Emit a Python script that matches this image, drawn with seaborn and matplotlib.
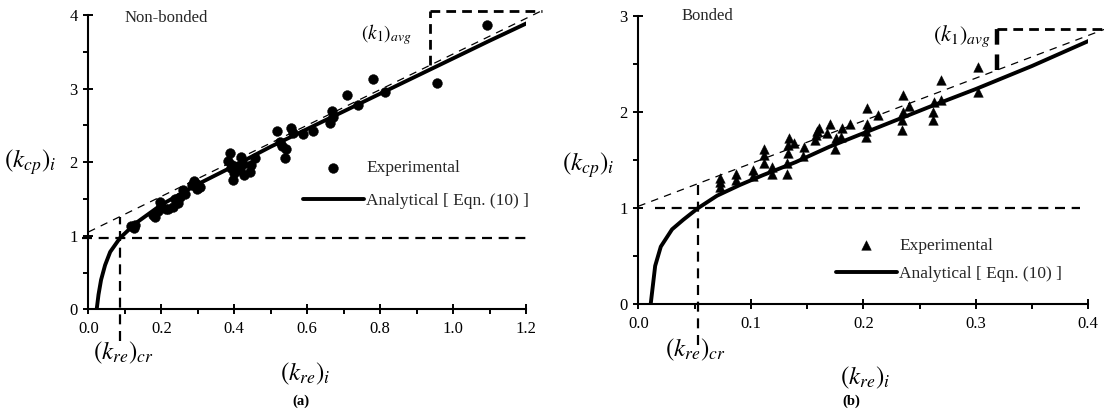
import numpy as np
import pandas as pd
import matplotlib
matplotlib.use("Agg")
import matplotlib.pyplot as plt
from matplotlib.ticker import MultipleLocator, FormatStrFormatter
import seaborn as sns

# ---- (a) Non-bonded -------------------------------------------------------
nb_kre = [0.118, 0.125, 0.128, 0.178, 0.183, 0.190, 0.196, 0.200, 0.212, 0.219,
          0.233, 0.237, 0.245, 0.251, 0.260, 0.265, 0.283, 0.290, 0.292, 0.297,
          0.301, 0.305, 0.384, 0.388, 0.390, 0.393, 0.397, 0.400, 0.402, 0.410,
          0.415, 0.420, 0.425, 0.428, 0.443, 0.447, 0.457, 0.516, 0.525, 0.530,
          0.539, 0.543, 0.557, 0.560, 0.589, 0.616, 0.662, 0.667, 0.672, 0.708,
          0.740, 0.781, 0.813, 0.955, 1.092]
nb_kcp = [1.13, 1.10, 1.15, 1.28, 1.25, 1.34, 1.46, 1.40, 1.37, 1.36,
          1.39, 1.50, 1.44, 1.53, 1.62, 1.57, 1.69, 1.74, 1.72, 1.64,
          1.69, 1.66, 2.02, 2.12, 1.92, 1.96, 1.76, 1.85, 1.88, 1.95,
          1.90, 2.07, 1.98, 1.82, 1.87, 1.96, 2.05, 2.43, 2.28, 2.22,
          2.05, 2.18, 2.47, 2.40, 2.38, 2.43, 2.53, 2.70, 2.62, 2.91,
          2.78, 3.13, 2.95, 3.08, 3.86]

nb_curve_kre = [0.023, 0.028, 0.035, 0.046, 0.060, 0.087, 0.130, 0.200, 0.300,
                0.400, 0.500, 0.600, 0.700, 0.800, 0.900, 1.000, 1.100, 1.220]
nb_curve_kcp = [0.00, 0.20, 0.40, 0.60, 0.78, 0.97, 1.17, 1.42, 1.70,
                1.95, 2.21, 2.45, 2.69, 2.93, 3.17, 3.41, 3.65, 3.93]

nb_tangent_kre = [0.0, 1.244]
nb_tangent_kcp = [1.05, 4.06]
nb_kre_cr, nb_kcp_cr = 0.087, 0.965
nb_k1_kre = [0.936, 1.244]
nb_k1_kcp = [3.32, 4.06]

# ---- (b) Bonded -----------------------------------------------------------
b_kre = [0.073, 0.073, 0.073, 0.087, 0.087, 0.102, 0.102, 0.112, 0.112, 0.112,
         0.119, 0.119, 0.132, 0.132, 0.133, 0.133, 0.134, 0.138, 0.146, 0.147,
         0.157, 0.158, 0.159, 0.161, 0.168, 0.170, 0.175, 0.176, 0.180, 0.181,
         0.188, 0.202, 0.202, 0.203, 0.203, 0.213, 0.234, 0.234, 0.235, 0.235,
         0.241, 0.262, 0.262, 0.263, 0.269, 0.269, 0.302, 0.302]
b_kcp = [1.22, 1.27, 1.31, 1.29, 1.36, 1.33, 1.40, 1.47, 1.55, 1.62,
         1.36, 1.43, 1.36, 1.47, 1.57, 1.66, 1.73, 1.68, 1.54, 1.64,
         1.71, 1.76, 1.80, 1.83, 1.78, 1.88, 1.62, 1.73, 1.74, 1.83,
         1.88, 1.74, 1.80, 1.88, 2.04, 1.97, 1.81, 1.92, 2.00, 2.18,
         2.06, 1.92, 2.00, 2.11, 2.13, 2.33, 2.21, 2.47]

b_curve_kre = [0.011, 0.013, 0.015, 0.020, 0.030, 0.040, 0.053, 0.070, 0.090,
               0.110, 0.140, 0.170, 0.200, 0.230, 0.260, 0.300, 0.350, 0.404]
b_curve_kcp = [0.00, 0.20, 0.40, 0.60, 0.78, 0.88, 1.00, 1.13, 1.24,
               1.34, 1.48, 1.64, 1.78, 1.92, 2.06, 2.24, 2.48, 2.76]

b_tangent_kre = [0.0, 0.414]
b_tangent_kcp = [1.02, 2.86]
b_kre_cr, b_kcp_cr = 0.0533, 1.0
b_k1_kre = [0.3186, 0.413]
b_k1_kcp = [2.44, 2.86]

W, H = 1104, 418

sns.set_theme(style="white")
plt.rcParams["font.family"] = ["Liberation Serif", "DejaVu Serif"]
plt.rcParams["mathtext.fontset"] = "stix"

fig = plt.figure(figsize=(W / 100, H / 100), dpi=100)


def fx(x):
    return x / W


def fy(y):
    return 1 - y / H


ax_a = fig.add_axes([fx(88.3), fy(309.3), fx(526 - 88.3), (309.3 - 15) / H])
ax_b = fig.add_axes([fx(638.3), fy(304.3), fx(1088.3 - 638.3), (304.3 - 16) / H])

dash_thick = dict(color="black", lw=1.6, ls=(0, (4.5, 3)), clip_on=False)
dash_thin = dict(color="black", lw=0.9, ls=(0, (6, 5)), clip_on=False)
dash_box = dict(color="black", lw=2.0, ls=(0, (3.5, 2.2)), clip_on=False)


def draw_panel(ax, kre, kcp, marker, size, ckre, ckcp, tkre, tkcp, kre_cr, kcp_cr,
               hline_x, vline_bottom, k1_kre, k1_kcp, box_lw):
    pts = pd.DataFrame({"kre": kre, "kcp": kcp})
    crv = pd.DataFrame({"kre": ckre, "kcp": ckcp})
    slope = (tkcp[1] - tkcp[0]) / (tkre[1] - tkre[0])
    # tangent, critical-point guides and the slope triangle
    ax.plot(tkre, tkcp, **dash_thin)
    ax.plot(hline_x, [kcp_cr, kcp_cr], **dash_thick)
    ax.plot([kre_cr, kre_cr], [vline_bottom, tkcp[0] + slope * kre_cr], **dash_thick)
    box = dict(dash_box)
    box["lw"] = box_lw
    ax.plot([k1_kre[0], k1_kre[1]], [k1_kcp[1], k1_kcp[1]], **dash_box)
    ax.plot([k1_kre[0], k1_kre[0]], [k1_kcp[0], k1_kcp[1]], **box)
    sns.scatterplot(data=pts, x="kre", y="kcp", marker=marker, s=size, color="black",
                    edgecolor="black", linewidth=0.3, ax=ax, label="Experimental", zorder=3)
    sns.lineplot(data=crv, x="kre", y="kcp", sort=False, estimator=None, color="black",
                 lw=2.8, ax=ax, label="Analytical [ Eqn. (10) ]", zorder=4)


draw_panel(ax_a, nb_kre, nb_kcp, "o", 50, nb_curve_kre, nb_curve_kcp,
           nb_tangent_kre, nb_tangent_kcp, nb_kre_cr, nb_kcp_cr,
           [-0.016, 1.205], -0.43, nb_k1_kre, nb_k1_kcp, 2.0)
draw_panel(ax_b, b_kre, b_kcp, "^", 48, b_curve_kre, b_curve_kcp,
           b_tangent_kre, b_tangent_kcp, b_kre_cr, b_kcp_cr,
           [0.015, 0.393], -0.42, b_k1_kre, b_k1_kcp, 3.2)

for ax, xmax, ymax, xmaj, xmin in [(ax_a, 1.2, 4, 0.2, 0.1), (ax_b, 0.4, 3, 0.1, 0.05)]:
    ax.set_xlim(0, xmax)
    ax.set_ylim(0, ymax)
    ax.xaxis.set_major_locator(MultipleLocator(xmaj))
    ax.xaxis.set_minor_locator(MultipleLocator(xmin))
    ax.yaxis.set_major_locator(MultipleLocator(1))
    ax.yaxis.set_minor_locator(MultipleLocator(0.5))
    ax.xaxis.set_major_formatter(FormatStrFormatter("%.1f"))
    ax.yaxis.set_major_formatter(FormatStrFormatter("%d"))
    for s in ["top", "right"]:
        ax.spines[s].set_visible(False)
    for s in ["left", "bottom"]:
        ax.spines[s].set_linewidth(1.5)
        ax.spines[s].set_color("black")
    ax.tick_params(which="both", bottom=True, left=True, top=False, right=False)
    ax.tick_params(which="major", direction="inout", length=7, width=1.4,
                   labelsize=12, colors="black", pad=5)
    ax.tick_params(which="minor", direction="out", length=3.5, width=1.4, colors="black")
    ax.tick_params(axis="y", which="major", pad=4)
    ax.set_xlabel("")
    ax.set_ylabel("")
    ax.grid(False)
    ax.set_facecolor("none")

leg_a = ax_a.legend(loc="center left", bbox_to_anchor=(fx(303), fy(184.5)),
                    bbox_transform=fig.transFigure, frameon=False, fontsize=12.5,
                    handlelength=3.5, handletextpad=0.15, labelspacing=0.95,
                    borderpad=0, borderaxespad=0)
leg_b = ax_b.legend(loc="center left", bbox_to_anchor=(fx(836), fy(260)),
                    bbox_transform=fig.transFigure, frameon=False, fontsize=12.5,
                    handlelength=3.5, handletextpad=0.15, labelspacing=0.7,
                    borderpad=0, borderaxespad=0)

# axis titles and annotations
lab = dict(ha="center", va="center", color="black")
fig.text(fx(30), fy(162), r"$(k_{cp})_i$", fontsize=18, **lab)
fig.text(fx(305), fy(374), r"$(k_{re})_i$", fontsize=18, **lab)
fig.text(fx(123), fy(353), r"$(k_{re})_{cr}$", fontsize=18, **lab)
fig.text(fx(387), fy(35), r"$(k_1)_{avg}$", fontsize=14, **lab)
fig.text(fx(125), fy(18), "Non-bonded", fontsize=12, ha="left", va="center")
fig.text(fx(301), fy(401), "(a)", fontsize=10.5, fontweight="bold", **lab)

fig.text(fx(588), fy(165), r"$(k_{cp})_i$", fontsize=18, **lab)
fig.text(fx(865), fy(378), r"$(k_{re})_i$", fontsize=18, **lab)
fig.text(fx(695), fy(350), r"$(k_{re})_{cr}$", fontsize=18, **lab)
fig.text(fx(962), fy(36), r"$(k_1)_{avg}$", fontsize=16, **lab)
fig.text(fx(682), fy(16), "Bonded", fontsize=12, ha="left", va="center")
fig.text(fx(851), fy(401), "(b)", fontsize=10.5, fontweight="bold", **lab)

fig.savefig("out.png", dpi=100, facecolor="white")
